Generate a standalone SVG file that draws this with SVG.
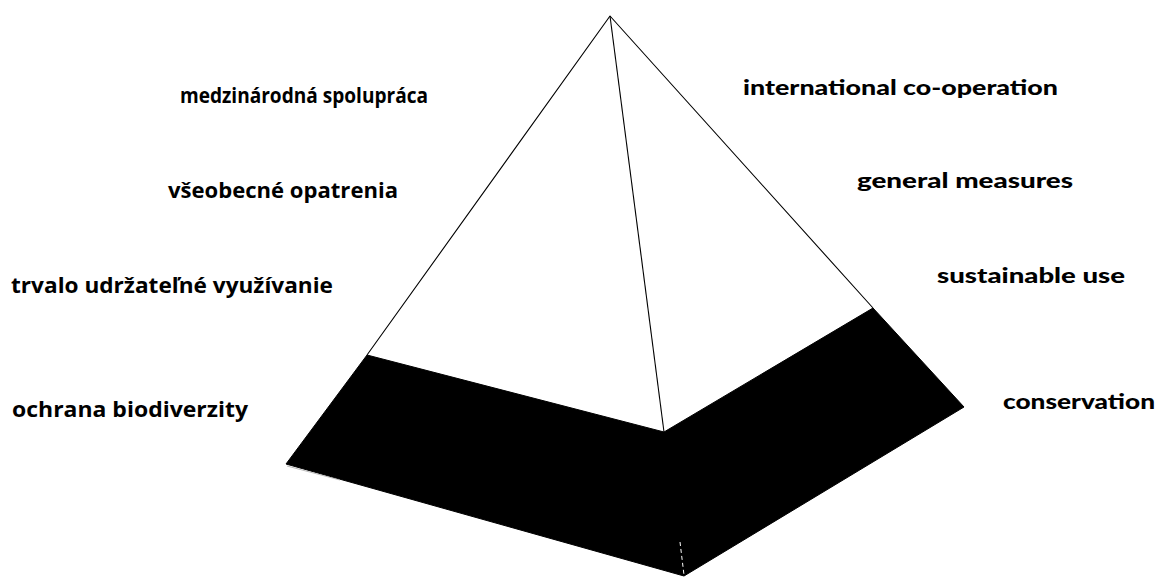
<svg xmlns="http://www.w3.org/2000/svg" width="1159" height="577" viewBox="0 0 1159 577">
<style>
.sk{font-family:"Open Sans","Noto Sans","Liberation Sans",sans-serif;font-weight:700;font-size:21px;fill:#000}
.en{font-family:"Lato","DejaVu Sans","Liberation Sans",sans-serif;font-weight:900;font-size:21px;fill:#000}
.edge{fill:none;stroke:#000;stroke-width:1.1;stroke-linejoin:round}
</style>
<rect width="1159" height="577" fill="#fff"/>
<g id="pyramid">
  <polygon id="face-left" points="610,16 367,355 664,432" fill="#fff"/>
  <polygon id="face-right" points="610,16 664,432 873,308" fill="#fff"/>
  <polygon id="band" points="367,355 664,432 873,308 964,407 684,576 286,464" fill="#000" stroke="#000" stroke-width="1" stroke-linejoin="round"/>
  <line x1="287" y1="466" x2="340" y2="480" stroke="#aaa" stroke-width="0.8"/>
  <line x1="680" y1="542" x2="684" y2="575" stroke="#fff" stroke-width="1" stroke-dasharray="4,3"/>
  <polyline class="edge" points="367,355 610,16 873,308"/>
  <line class="edge" x1="610" y1="16" x2="664" y2="432" stroke-width="1.8"/>
</g>
<g id="labels-sk">
  <text class="sk" x="180" y="103" textLength="248" lengthAdjust="spacingAndGlyphs">medzinárodná spolupráca</text>
  <text class="sk" x="168" y="198" textLength="230" lengthAdjust="spacingAndGlyphs">všeobecné opatrenia</text>
  <text class="sk" x="11" y="293" textLength="322" lengthAdjust="spacingAndGlyphs">trvalo udržateľné využívanie</text>
  <text class="sk" x="12" y="417" textLength="236" lengthAdjust="spacingAndGlyphs">ochrana biodiverzity</text>
</g>
<g id="labels-en">
  <text class="en" x="743" y="95" textLength="315" lengthAdjust="spacingAndGlyphs">international co-operation</text>
  <text class="en" x="857" y="188" textLength="216" lengthAdjust="spacingAndGlyphs">general measures</text>
  <text class="en" x="937" y="283" textLength="188" lengthAdjust="spacingAndGlyphs">sustainable use</text>
  <text class="en" x="1003" y="409" textLength="152" lengthAdjust="spacingAndGlyphs">conservation</text>
</g>
</svg>
